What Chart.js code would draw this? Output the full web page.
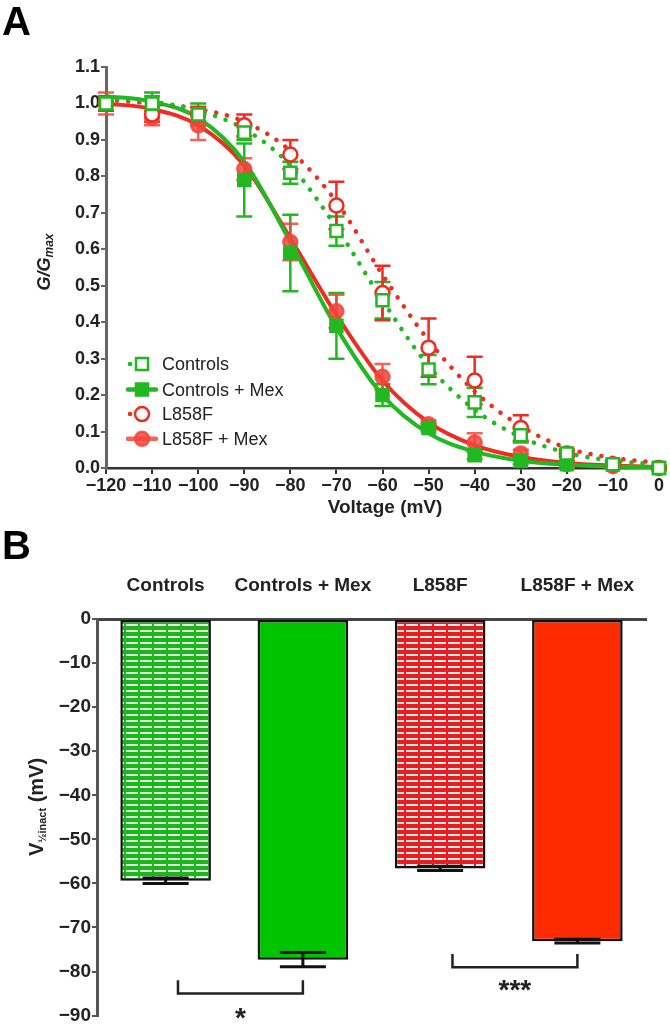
<!DOCTYPE html>
<html>
<head>
<title>Steady-state inactivation</title>
<script src="https://cdn.jsdelivr.net/npm/chart.js@4.4.0/dist/chart.umd.min.js"></script>
<style>
  body { margin: 0; background: #fff; }
  #wrapA { position: absolute; left: 0; top: 0; width: 670px; height: 525px; }
  #wrapB { position: absolute; left: 0; top: 525px; width: 670px; height: 503px; }
</style>
</head>
<body>
<div id="wrapA"><canvas id="chartA"></canvas></div>
<div id="wrapB"><canvas id="chartB"></canvas></div>
<script>
// ---- panel A data (G/Gmax vs voltage) ----
var voltage = [-120, -110, -100, -90, -80, -70, -60, -50, -40, -30, -20, -10, 0];
var gTicks = [0, 0.1, 0.2, 0.3, 0.4, 0.5, 0.6, 0.7, 0.8, 0.9, 1.0, 1.1];

var controls       = [1.00, 1.00, 0.97, 0.92, 0.81, 0.65, 0.46, 0.27, 0.18, 0.09, 0.04, 0.01, 0.00];
var controlsErr    = [0.02, 0.02, 0.02, 0.02, 0.03, 0.04, 0.05, 0.04, 0.04, 0.02, 0.01, 0.01, 0.005];
var controlsMex    = [1.00, 1.00, 0.97, 0.79, 0.59, 0.39, 0.20, 0.11, 0.035, 0.02, 0.01, 0.01, 0.00];
var controlsMexErr = [0.02, 0.03, 0.03, 0.10, 0.105, 0.09, 0.03, 0.01, 0.01, 0.01, 0.01, 0.01, 0.005];
var l858f          = [1.00, 0.97, 0.97, 0.94, 0.86, 0.72, 0.48, 0.33, 0.24, 0.11, 0.04, 0.01, 0.00];
var l858fErr       = [0.02, 0.02, 0.02, 0.03, 0.04, 0.065, 0.075, 0.08, 0.065, 0.035, 0.01, 0.01, 0.005];
var l858fMex       = [1.00, 0.96, 0.94, 0.82, 0.62, 0.43, 0.25, 0.12, 0.07, 0.04, 0.01, 0.005, 0.00];
var l858fMexErr    = [0.03, 0.02, 0.04, 0.03, 0.05, 0.045, 0.035, 0.01, 0.025, 0.01, 0.01, 0.005, 0.005];

// Boltzmann fits at each 10 mV step
var fitControls    = [1.015, 1.005, 0.98, 0.93, 0.83, 0.66, 0.46, 0.28, 0.16, 0.085, 0.042, 0.02, 0.01];
var fitControlsMex = [1.02, 1.005, 0.96, 0.84, 0.62, 0.385, 0.20, 0.095, 0.045, 0.02, 0.009, 0.004, 0.002];
var fitL858F       = [1.01, 1.00, 0.985, 0.95, 0.87, 0.73, 0.53, 0.35, 0.21, 0.115, 0.055, 0.028, 0.014];
var fitL858FMex    = [1.00, 0.985, 0.94, 0.83, 0.63, 0.42, 0.24, 0.125, 0.062, 0.03, 0.014, 0.007, 0.003];

// ---- panel B data (V1/2 inact) ----
var groups = ['Controls', 'Controls + Mex', 'L858F', 'L858F + Mex'];
var vHalf = [-59.4, -77.3, -56.6, -73.1];
var vHalfErr = [0.6, 1.6, 0.5, 0.4];
var vTicks = [0, -10, -20, -30, -40, -50, -60, -70, -80, -90];

var GREEN = '#22b822';
var RED = '#f02c22';
var RED_FILL = 'rgba(242,70,60,0.85)';
var FONT = "'Liberation Sans', Arial, sans-serif";

function xy(ys) {
  return voltage.map(function(v, i) { return { x: v, y: ys[i] }; });
}
function minus(v) {
  return String(v).replace('-', '\u2212');
}

// series table for the point/error plugin
var seriesA = [
  { label: 'Controls', mean: controls, err: controlsErr, color: GREEN, fill: '#fff', style: 'rect', dotted: true },
  { label: 'Controls + Mex', mean: controlsMex, err: controlsMexErr, color: GREEN, fill: GREEN, style: 'rect', dotted: false },
  { label: 'L858F', mean: l858f, err: l858fErr, color: RED, fill: '#fff', style: 'circle', dotted: true },
  { label: 'L858F + Mex', mean: l858fMex, err: l858fMexErr, color: RED_FILL, fill: RED_FILL, style: 'circle', dotted: false }
];

function marker(ctx, style, x, y, color, fill) {
  ctx.save();
  ctx.lineWidth = 2.5;
  ctx.strokeStyle = color;
  ctx.fillStyle = fill;
  ctx.beginPath();
  if (style === 'rect') ctx.rect(x - 6, y - 6, 12, 12);
  else ctx.arc(x, y, 7, 0, Math.PI * 2);
  ctx.fill();
  ctx.stroke();
  ctx.restore();
}

var errorBarsA = {
  id: 'errorBarsA',
  beforeDatasetsDraw: function(chart) {
    var ctx = chart.ctx, x = chart.scales.x, y = chart.scales.y;
    seriesA.forEach(function(s) {
      ctx.save();
      ctx.strokeStyle = s.color;
      ctx.lineWidth = 2.5;
      voltage.forEach(function(v, i) {
        var px = x.getPixelForValue(v);
        var t = y.getPixelForValue(s.mean[i] + s.err[i]);
        var b = y.getPixelForValue(s.mean[i] - s.err[i]);
        ctx.beginPath();
        ctx.moveTo(px, t); ctx.lineTo(px, b);
        ctx.moveTo(px - 8, t); ctx.lineTo(px + 8, t);
        ctx.moveTo(px - 8, b); ctx.lineTo(px + 8, b);
        ctx.stroke();
      });
      ctx.restore();
    });
  }
};

var decorA = {
  id: 'decorA',
  afterDraw: function(chart) {
    var ctx = chart.ctx;
    ctx.save();
    ctx.fillStyle = '#000';
    ctx.font = 'bold 40px ' + FONT;
    ctx.textBaseline = 'top';
    ctx.fillText('A', 2, 4);

    // x title
    ctx.fillStyle = '#222';
    ctx.font = 'bold 19px ' + FONT;
    ctx.textAlign = 'center';
    ctx.textBaseline = 'middle';
    ctx.fillText('Voltage (mV)', 385, 508);

    // y title G/Gmax
    ctx.translate(45, 262);
    ctx.rotate(-Math.PI / 2);
    ctx.textAlign = 'left';
    ctx.font = 'italic bold 18px ' + FONT;
    var w1 = ctx.measureText('G/G').width;
    ctx.font = 'italic bold 12px ' + FONT;
    var w2 = ctx.measureText('max').width;
    var x0 = -(w1 + w2) / 2;
    ctx.font = 'italic bold 18px ' + FONT;
    ctx.fillText('G/G', x0, 0);
    ctx.font = 'italic bold 12px ' + FONT;
    ctx.fillText('max', x0 + w1, 5);
    ctx.restore();

    // legend
    var y0 = chart.scales.y;
    var rows = [0.285, 0.215, 0.148, 0.08];
    seriesA.forEach(function(s, i) {
      var py = y0.getPixelForValue(rows[i]);
      ctx.save();
      ctx.strokeStyle = s.color;
      ctx.lineWidth = 4.5;
      ctx.lineCap = 'round';
      if (s.dotted) ctx.setLineDash([0.1, 11]);
      ctx.beginPath();
      ctx.moveTo(s.dotted ? 130 : 128, py);
      ctx.lineTo(s.dotted ? 152 : 156, py);
      ctx.stroke();
      ctx.restore();
      marker(ctx, s.style, 142, py, s.color, s.fill);
      ctx.save();
      ctx.fillStyle = '#222';
      ctx.font = '18px ' + FONT;
      ctx.textBaseline = 'middle';
      ctx.fillText(s.label, 162, py + 1);
      ctx.restore();
    });
  }
};

function fitSet(data, color, dotted) {
  return {
    type: 'line', data: xy(data), borderColor: color, borderWidth: dotted ? 4.5 : 4,
    borderDash: dotted ? [0.1, 11] : [], borderCapStyle: 'round',
    cubicInterpolationMode: 'monotone', pointRadius: 0, fill: false, order: 2, clip: false
  };
}
function pointSet(s) {
  return {
    type: 'line', data: xy(s.mean), showLine: false, order: 1, clip: false,
    pointStyle: s.style, pointRadius: s.style === 'rect' ? 8.5 : 7,
    pointBorderWidth: 2.5, pointBorderColor: s.color, pointBackgroundColor: s.fill
  };
}

new Chart(document.getElementById('chartA'), {
  type: 'line',
  data: {
    datasets: [
      fitSet(fitControls, GREEN, true),
      fitSet(fitL858F, RED, true),
      fitSet(fitControlsMex, GREEN, false),
      fitSet(fitL858FMex, RED, false),
      pointSet(seriesA[0]), pointSet(seriesA[1]), pointSet(seriesA[2]), pointSet(seriesA[3])
    ]
  },
  options: {
    responsive: true,
    maintainAspectRatio: false,
    animation: false,
    layout: { padding: { top: 67, right: 10, left: 0, bottom: 0 } },
    plugins: { legend: { display: false }, tooltip: { enabled: false } },
    scales: {
      x: {
        type: 'linear', min: -120, max: 0,
        afterFit: function(s) { s.height = 57; },
        afterBuildTicks: function(s) { s.ticks = voltage.map(function(v) { return { value: v }; }); },
        ticks: {
          autoSkip: false, maxRotation: 0, padding: 1, color: '#222',
          font: { family: FONT, weight: 'bold', size: 18 },
          callback: function(v) { return minus(v); }
        },
        grid: { drawOnChartArea: false, drawTicks: true, tickLength: 6, lineWidth: 2, color: '#333' },
        border: { display: true, color: '#333', width: 2.5 }
      },
      y: {
        type: 'linear', min: 0, max: 1.1,
        afterFit: function(s) { s.width = 106; },
        afterBuildTicks: function(s) { s.ticks = gTicks.map(function(v) { return { value: v }; }); },
        ticks: {
          padding: 1, color: '#222',
          font: { family: FONT, weight: 'bold', size: 18 },
          callback: function(v) { return v.toFixed(1); }
        },
        grid: { drawOnChartArea: false, drawTicks: true, tickLength: 5, lineWidth: 2, color: '#666' },
        border: { display: true, color: '#666', width: 3 }
      }
    }
  },
  plugins: [errorBarsA, decorA]
});

// ---- panel B ----
function stripes(base) {
  var c = document.createElement('canvas');
  c.width = 14; c.height = 6;
  var g = c.getContext('2d');
  g.fillStyle = base;
  g.fillRect(0, 0, 14, 6);
  g.fillStyle = 'rgba(255,255,255,0.9)';
  g.fillRect(0, 3, 12, 2);
  return g.createPattern(c, 'repeat');
}

var barColors = [stripes('#17b817'), '#00c400', stripes('#e81e1e'), '#ff2b00'];

var errorBarsB = {
  id: 'errorBarsB',
  afterDatasetsDraw: function(chart) {
    var ctx = chart.ctx, x = chart.scales.x, y = chart.scales.y;
    ctx.save();
    ctx.strokeStyle = '#111';
    ctx.lineWidth = 3;
    groups.forEach(function(g, i) {
      var px = x.getPixelForValue(i);
      var t = y.getPixelForValue(vHalf[i] + vHalfErr[i]);
      var b = y.getPixelForValue(vHalf[i] - vHalfErr[i]);
      ctx.beginPath();
      ctx.moveTo(px, t); ctx.lineTo(px, b);
      ctx.moveTo(px - 23, t); ctx.lineTo(px + 23, t);
      ctx.moveTo(px - 23, b); ctx.lineTo(px + 23, b);
      ctx.stroke();
    });
    ctx.restore();
  }
};

// significance brackets: from a bit right of group a to centre of group b
var brackets = [
  { a: 0, b: 1, start: 0.09, tickTop: -82, bottom: -85, text: '*', textY: -89 },
  { a: 2, b: 3, start: 0.09, tickTop: -76, bottom: -79, text: '***', textY: -82.6 }
];

var decorB = {
  id: 'decorB',
  afterDraw: function(chart) {
    var ctx = chart.ctx, x = chart.scales.x, y = chart.scales.y;
    ctx.save();
    ctx.fillStyle = '#000';
    ctx.font = 'bold 40px ' + FONT;
    ctx.textBaseline = 'top';
    ctx.fillText('B', 2, 3);

    ctx.strokeStyle = '#222';
    ctx.lineWidth = 2.5;
    brackets.forEach(function(br) {
      var pa = x.getPixelForValue(br.a), pb = x.getPixelForValue(br.b);
      var l = pa + br.start * (pb - pa);
      var t = y.getPixelForValue(br.tickTop), bt = y.getPixelForValue(br.bottom);
      ctx.beginPath();
      ctx.moveTo(l, t); ctx.lineTo(l, bt); ctx.lineTo(pb, bt); ctx.lineTo(pb, t);
      ctx.stroke();
      ctx.fillStyle = '#222';
      ctx.font = 'bold 28px ' + FONT;
      ctx.textAlign = 'center';
      ctx.textBaseline = 'alphabetic';
      ctx.fillText(br.text, (l + pb) / 2, y.getPixelForValue(br.textY) + 16);
    });

    // y title V1/2 inact (mV)
    ctx.translate(36, 282);
    ctx.rotate(-Math.PI / 2);
    ctx.textAlign = 'left';
    ctx.textBaseline = 'alphabetic';
    var big = 'bold 20px ' + FONT, small = 'bold 11px ' + FONT;
    ctx.font = big; var w1 = ctx.measureText('V').width;
    ctx.font = small; var w2 = ctx.measureText('\u00bdinact').width;
    ctx.font = big; var w3 = ctx.measureText(' (mV)').width;
    var x0 = -(w1 + w2 + w3) / 2;
    ctx.fillStyle = '#222';
    ctx.font = big; ctx.fillText('V', x0, 7);
    ctx.font = small; ctx.fillText('\u00bdinact', x0 + w1, 10);
    ctx.font = big; ctx.fillText(' (mV)', x0 + w1 + w2, 7);
    ctx.restore();
  }
};

new Chart(document.getElementById('chartB'), {
  type: 'bar',
  data: {
    labels: groups,
    datasets: [{
      data: vHalf,
      backgroundColor: barColors,
      borderColor: '#111',
      borderWidth: 2.5,
      borderSkipped: false,
      categoryPercentage: 1,
      barPercentage: 0.66
    }]
  },
  options: {
    responsive: true,
    maintainAspectRatio: false,
    animation: false,
    layout: { padding: { top: 0, right: 24, left: 0, bottom: 10 } },
    plugins: { legend: { display: false }, tooltip: { enabled: false } },
    scales: {
      x: {
        position: 'top',
        afterFit: function(s) { s.height = 94; },
        ticks: {
          padding: 14, color: '#222', autoSkip: false, maxRotation: 0, minRotation: 0,
          font: { family: FONT, weight: 'bold', size: 19 }
        },
        grid: { display: false },
        border: { display: true, color: '#444', width: 3 }
      },
      y: {
        min: -90, max: 0,
        afterFit: function(s) { s.width = 97; },
        afterBuildTicks: function(s) { s.ticks = vTicks.map(function(v) { return { value: v }; }); },
        ticks: {
          padding: 1, color: '#222',
          font: { family: FONT, weight: 'bold', size: 19 },
          callback: function(v) { return minus(v); }
        },
        grid: { drawOnChartArea: false, drawTicks: true, tickLength: 5, lineWidth: 2, color: '#555' },
        border: { display: true, color: '#555', width: 3 }
      }
    }
  },
  plugins: [errorBarsB, decorB]
});
</script>
</body>
</html>
